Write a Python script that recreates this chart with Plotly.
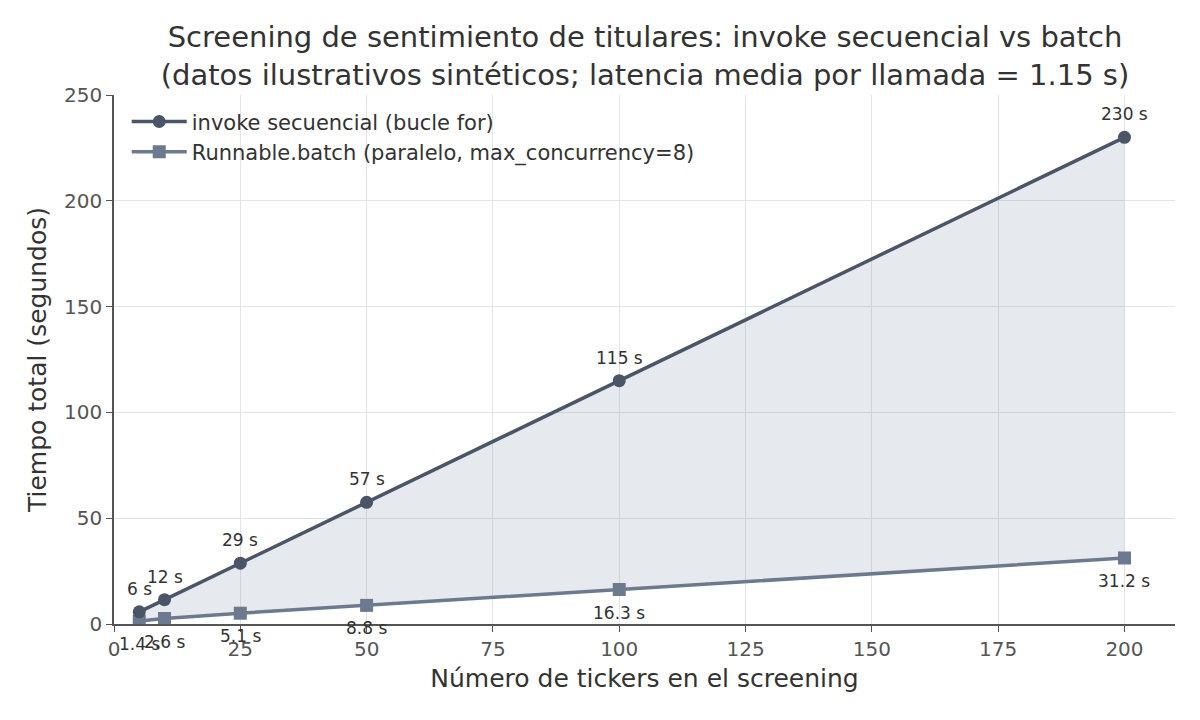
import plotly.graph_objects as go

tickers = [5, 10, 25, 50, 100, 200]
seq_times = [5.75, 11.5, 28.75, 57.5, 115.0, 230.0]
seq_labels = ["6 s", "12 s", "29 s", "57 s", "115 s", "230 s"]
batch_times = [1.4, 2.6, 5.1, 8.8, 16.3, 31.2]
batch_labels = ["1.4 s", "2.6 s", "5.1 s", "8.8 s", "16.3 s", "31.2 s"]

SEQ_COLOR = "#4a5568"
BATCH_COLOR = "#6b7a8f"
FONT = "DejaVu Sans"

fig = go.Figure()

# shaded band between the two series (no legend entry)
fig.add_trace(go.Scatter(
    x=tickers, y=batch_times, mode="lines", line=dict(width=0, color=BATCH_COLOR),
    showlegend=False, hoverinfo="skip",
))
fig.add_trace(go.Scatter(
    x=tickers, y=seq_times, mode="lines", line=dict(width=0, color=SEQ_COLOR),
    fill="tonexty", fillcolor="rgba(100,116,150,0.16)",
    showlegend=False, hoverinfo="skip",
))

fig.add_trace(go.Scatter(
    x=tickers, y=batch_times, mode="lines+markers",
    name="Runnable.batch (paralelo, max_concurrency=8)",
    line=dict(color=BATCH_COLOR, width=3.5),
    marker=dict(symbol="square", size=13, color=BATCH_COLOR),
))
fig.add_trace(go.Scatter(
    x=tickers, y=seq_times, mode="lines+markers",
    name="invoke secuencial (bucle for)",
    line=dict(color=SEQ_COLOR, width=3.5),
    marker=dict(symbol="circle", size=13, color=SEQ_COLOR),
))

for xv, yv, t in zip(tickers, seq_times, seq_labels):
    fig.add_annotation(x=xv, y=yv, text=t, showarrow=False, yshift=23,
                       font=dict(size=17, color="#333333", family=FONT))
for xv, yv, t in zip(tickers, batch_times, batch_labels):
    fig.add_annotation(x=xv, y=yv, text=t, showarrow=False, yshift=-23,
                       font=dict(size=17, color="#333333", family=FONT))

fig.update_layout(
    width=1200, height=720,
    paper_bgcolor="white", plot_bgcolor="white",
    margin=dict(l=114, r=25, t=95, b=96),
    font=dict(family=FONT, color="#333333"),
    title=dict(
        text="Screening de sentimiento de titulares: invoke secuencial vs batch<br>(datos ilustrativos sintéticos; latencia media por llamada = 1.15 s)",
        x=0.5375, xanchor="center", y=0.935, yanchor="middle",
        font=dict(size=29, color="#333333", family=FONT),
    ),
    legend=dict(
        x=0.012, y=0.988, xanchor="left", yanchor="top",
        traceorder="reversed", itemwidth=55,
        bgcolor="rgba(255,255,255,0)",
        font=dict(size=21, color="#333333", family=FONT),
        tracegroupgap=0,
    ),
    showlegend=True,
)

fig.update_xaxes(
    range=[0, 210], tickvals=[0, 25, 50, 75, 100, 125, 150, 175, 200],
    showgrid=True, gridcolor="#e0e3e8", gridwidth=1.2,
    showline=True, linecolor="#555555", linewidth=1.5,
    ticks="outside", tickcolor="#555555", ticklen=6,
    tickfont=dict(size=20, color="#555555"),
    title=dict(text="Número de tickers en el screening", font=dict(size=25, color="#333333"), standoff=10),
    zeroline=False,
)
fig.update_yaxes(
    range=[0, 250], tickvals=[0, 50, 100, 150, 200, 250],
    showgrid=True, gridcolor="#e0e3e8", gridwidth=1.2,
    showline=True, linecolor="#555555", linewidth=1.5,
    ticks="outside", tickcolor="#555555", ticklen=6,
    tickfont=dict(size=20, color="#555555"),
    title=dict(text="Tiempo total (segundos)", font=dict(size=25, color="#333333"), standoff=10),
    zeroline=False,
)

fig.write_html("out.html")
